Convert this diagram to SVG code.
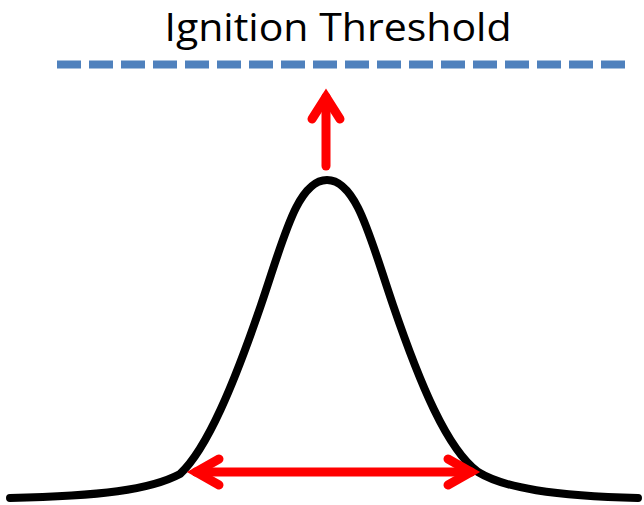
<svg xmlns="http://www.w3.org/2000/svg" width="644" height="505" viewBox="0 0 644 505">
<style>
.title{font-family:"Open Sans","Liberation Sans",sans-serif;font-size:38px;fill:#000}
.thr{stroke:#4F81BD;stroke-width:8;stroke-dasharray:24 8;fill:none}
.curve{stroke:#000;stroke-width:8;fill:none;stroke-linecap:round;stroke-linejoin:round}
.arr{stroke:#FF0000;stroke-width:9;fill:none;stroke-linecap:round;stroke-linejoin:miter}
</style>
<rect width="644" height="505" fill="#fff"/>
<g id="title"><text class="title" x="338" y="40.5" text-anchor="middle" textLength="347" lengthAdjust="spacingAndGlyphs">Ignition Threshold</text></g>
<g id="threshold"><line class="thr" x1="57" y1="64.5" x2="625" y2="64.5"/></g>
<g id="bell"><path class="curve" d="M10,498 C100,496 150,490 180,474 C207,449 234,384 261,305 C283,241 297,180 327,180 C357,180 371,241 393,305 C420,384 447,449 478,472 C504,488 554,496 638,498"/></g>
<g id="connectors">
<path class="arr" d="M326,166 L326,97"/>
<path class="arr" d="M312,119 L326,97 L340,119"/>
<path class="arr" d="M196,472 L471,472"/>
<path class="arr" d="M219,459 L196,472 L219,485"/>
<path class="arr" d="M448,459 L471,472 L448,485"/>
</g>
</svg>
